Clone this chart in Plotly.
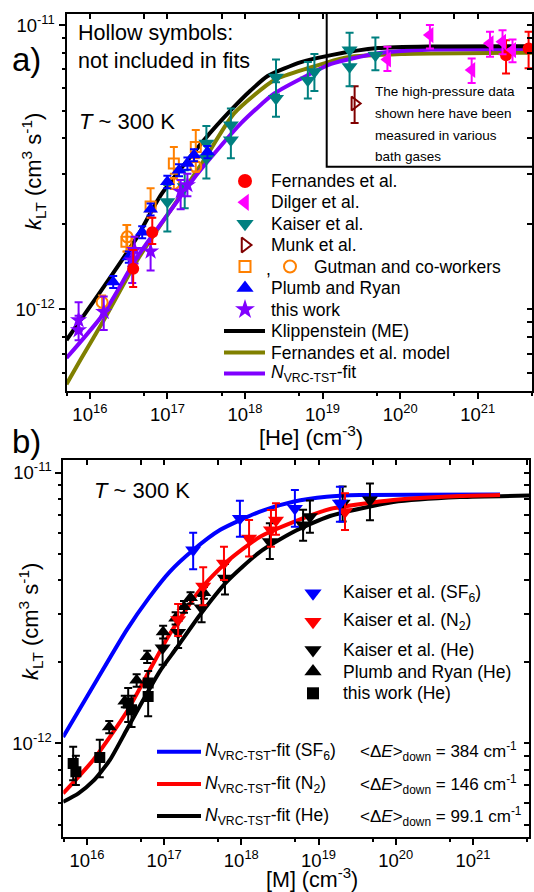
import plotly.graph_objects as go

W, H = 534, 892
FONT = "Liberation Sans, Arial, sans-serif"

RED = "#FF0000"; MAG = "#FF00FF"; TEAL = "#008080"; DRED = "#800000"
ORG = "#FF8000"; BLUE = "#0000FF"; PURP = "#8000FF"; OLIVE = "#808000"; BLK = "#000000"

# ---------------- tick values / labels ----------------
x_ticks = [1e16, 1e17, 1e18, 1e19, 1e20, 1e21]
x_ticktext = ["10<sup>16</sup>", "10<sup>17</sup>", "10<sup>18</sup>",
              "10<sup>19</sup>", "10<sup>20</sup>", "10<sup>21</sup>"]
y_ticks = [1e-12, 1e-11]
y_ticktext = ["10<sup>-12</sup>", "10<sup>-11</sup>"]
x_minor = [5e15, 5e16, 5e17, 5e18, 5e19, 5e20, 5e21]
ya_minor = [6e-13, 7e-13, 8e-13, 9e-13] + [k * 1e-12 for k in range(2, 10)]
yb_minor = [5e-13, 6e-13, 7e-13, 8e-13, 9e-13] + [k * 1e-12 for k in range(2, 10)]

# ---------------- Panel a : data ----------------
fern_x = [3.62e16, 6.38e16, 2.32e21, 4.53e21]
fern_y = [1.39e-12, 1.87e-12, 7.84e-12, 8.28e-12]
fern_hi = [1.62e-12, 2.10e-12, 8.85e-12, 9.47e-12]
fern_lo = [1.20e-12, 1.70e-12, 6.76e-12, 7.05e-12]

dilg_x = [6.86e19, 2.42e20, 8.36e20, 1.44e21, 2.09e21, 2.81e21]
dilg_y = [7.57e-12, 9.22e-12, 6.95e-12, 8.63e-12, 8.73e-12, 8.17e-12]
dilg_hi = [8.39e-12, 1.00e-11, 7.63e-12, 9.47e-12, 9.60e-12, 8.90e-12]
dilg_lo = [6.90e-12, 8.28e-12, 6.26e-12, 7.74e-12, 7.90e-12, 7.40e-12]

kais_x = [9.98e16, 1.67e17, 3.18e17, 3.18e17, 6.58e17, 6.58e17, 2.51e18, 2.51e18,
          6.46e18, 7.85e18, 2.23e19, 2.23e19, 4.80e19]
kais_y = [2.39e-12, 2.70e-12, 3.84e-12, 3.40e-12, 4.45e-12, 3.94e-12, 6.55e-12, 5.52e-12,
          6.40e-12, 6.85e-12, 8.17e-12, 7.13e-12, 7.84e-12]
kais_hi = [2.74e-12, 3.09e-12, 4.42e-12, 3.84e-12, 5.09e-12, 4.45e-12, 7.57e-12, 6.30e-12,
           7.42e-12, 7.92e-12, 9.39e-12, 8.17e-12, 9.05e-12]
kais_lo = [1.88e-12, 2.27e-12, 3.40e-12, 2.89e-12, 3.94e-12, 3.40e-12, 5.70e-12, 4.76e-12,
           5.52e-12, 5.87e-12, 7.13e-12, 6.10e-12, 6.94e-12]

munk_x = [2.59e19]
munk_y = [5.30e-12]
munk_hi = [6.10e-12]
munk_lo = [4.53e-12]

gsq_x = [2.96e16, 6.07e16, 1.21e17, 2.32e17]
gsq_y = [1.73e-12, 2.30e-12, 3.26e-12, 3.73e-12]
gsq_hi = [1.98e-12, 2.67e-12, 3.73e-12, 4.28e-12]
gsq_lo = [1.60e-12, 2.10e-12, 3.00e-12, 3.40e-12]

gci_x = [1.44e16, 3.03e16, 1.21e17, 2.32e17]
gci_y = [1.06e-12, 1.80e-12, 2.77e-12, 3.18e-12]
gci_hi = [1.12e-12, 1.98e-12, 2.90e-12, 3.30e-12]
gci_lo = [1.00e-12, 1.60e-12, 2.65e-12, 3.05e-12]

plumb_x = [2.00e16, 3.18e16, 4.73e16, 6.07e16, 9.98e16, 1.41e17, 1.81e17, 2.20e17, 3.28e17]
plumb_y = [1.25e-12, 1.53e-12, 1.87e-12, 2.25e-12, 2.81e-12, 3.09e-12, 3.26e-12, 3.49e-12, 3.58e-12]
plumb_hi = [1.31e-12, 1.60e-12, 1.96e-12, 2.36e-12, 2.95e-12, 3.24e-12, 3.42e-12, 3.66e-12, 3.76e-12]
plumb_lo = [1.19e-12, 1.46e-12, 1.78e-12, 2.14e-12, 2.67e-12, 2.94e-12, 3.10e-12, 3.32e-12, 3.40e-12]

tw_x = [7.16e15, 7.16e15, 1.51e16, 3.52e16, 3.77e16, 6.07e16, 1.48e17, 1.81e17]
tw_y = [9.17e-13, 8.46e-13, 9.81e-13, 1.49e-12, 1.62e-12, 1.60e-12, 2.60e-12, 2.74e-12]
tw_hi = [1.06e-12, 9.50e-13, 1.11e-12, 1.62e-12, 1.80e-12, 1.87e-12, 2.85e-12, 3.00e-12]
tw_lo = [8.40e-13, 7.80e-13, 8.46e-13, 1.24e-12, 1.45e-12, 1.37e-12, 2.25e-12, 2.50e-12]

# model curves (panel a)
klip_x = [5.0e15, 1.51e16, 4.08e16, 8.17e16, 2.96e17, 6.58e17, 1.19e18, 1.96e18, 5.28e18,
          1.29e19, 5.19e19, 2.30e20, 5.0e21]
klip_y = [7.80e-13, 1.20e-12, 1.80e-12, 2.52e-12, 3.94e-12, 5.02e-12, 5.90e-12, 6.62e-12,
          7.41e-12, 7.84e-12, 8.30e-12, 8.41e-12, 8.43e-12]
fmod_x = [5.0e15, 7.54e15, 1.51e16, 4.08e16, 1.34e17, 2.96e17, 7.24e17, 2.39e18, 6.46e18,
          2.12e19, 1.04e20, 5.0e21]
fmod_y = [5.46e-13, 6.64e-13, 9.16e-13, 1.49e-12, 2.42e-12, 3.35e-12, 4.89e-12, 6.41e-12,
          7.05e-12, 7.71e-12, 7.91e-12, 8.00e-12]
nfit_x = [5.0e15, 1.51e16, 4.08e16, 1.10e17, 2.44e17, 8.85e17, 2.39e18, 6.46e18, 1.29e19,
          5.01e19, 2.51e20, 5.0e21]
nfit_y = [6.75e-13, 9.68e-13, 1.53e-12, 2.23e-12, 3.00e-12, 4.51e-12, 5.75e-12, 6.67e-12,
          7.30e-12, 7.95e-12, 8.20e-12, 8.24e-12]

# ---------------- Panel b : data ----------------
ksf6_x = [2.38e17, 9.59e17, 4.94e18, 1.89e19]
ksf6_y = [5.18e-12, 6.78e-12, 7.38e-12, 7.71e-12]
ksf6_hi = [6.00e-12, 7.88e-12, 8.63e-12, 8.88e-12]
ksf6_lo = [4.40e-12, 5.80e-12, 6.32e-12, 6.59e-12]

kn2_x = [1.52e17, 3.21e17, 5.96e17, 1.26e18, 2.42e18, 2.81e18, 2.20e19]
kn2_y = [2.86e-12, 3.81e-12, 4.63e-12, 5.72e-12, 6.14e-12, 6.68e-12, 7.18e-12]
kn2_hi = [3.27e-12, 4.47e-12, 5.33e-12, 6.69e-12, 7.28e-12, 7.71e-12, 8.39e-12]
kn2_lo = [2.49e-12, 3.24e-12, 4.01e-12, 4.90e-12, 5.33e-12, 5.90e-12, 6.14e-12]

khe_x = [9.57e16, 1.52e17, 3.06e17, 6.14e17, 2.34e18, 6.31e18, 7.73e18, 2.05e19, 4.63e19]
khe_y = [2.25e-12, 2.57e-12, 3.16e-12, 4.07e-12, 5.56e-12, 6.41e-12, 6.88e-12, 7.71e-12, 7.93e-12]
khe_hi = [2.55e-12, 2.90e-12, 3.50e-12, 4.60e-12, 6.50e-12, 7.30e-12, 7.90e-12, 8.90e-12, 9.13e-12]
khe_lo = [1.95e-12, 2.25e-12, 2.80e-12, 3.55e-12, 4.80e-12, 5.60e-12, 6.00e-12, 6.60e-12, 6.68e-12]

phe_x = [1.95e16, 3.10e16, 4.41e16, 6.04e16, 9.72e16, 1.41e17, 1.81e17, 2.20e17, 3.28e17]
phe_y = [1.15e-12, 1.43e-12, 1.71e-12, 2.09e-12, 2.58e-12, 2.90e-12, 3.20e-12, 3.45e-12, 3.60e-12]
phe_hi = [1.21e-12, 1.50e-12, 1.80e-12, 2.20e-12, 2.72e-12, 3.05e-12, 3.36e-12, 3.62e-12, 3.78e-12]
phe_lo = [1.09e-12, 1.36e-12, 1.62e-12, 1.98e-12, 2.44e-12, 2.75e-12, 3.04e-12, 3.28e-12, 3.42e-12]

twhe_x = [6.65e15, 7.21e15, 1.47e16, 3.43e16, 3.79e16, 6.22e16, 6.22e16]
twhe_y = [8.43e-13, 7.85e-13, 8.87e-13, 1.41e-12, 1.33e-12, 1.67e-12, 1.49e-12]
twhe_hi = [9.71e-13, 9.00e-13, 1.03e-12, 1.60e-12, 1.50e-12, 1.85e-12, 1.67e-12]
twhe_lo = [7.30e-13, 7.02e-13, 7.50e-13, 1.20e-12, 1.15e-12, 1.50e-12, 1.26e-12]

# fits (panel b)
fsf6_x = [4.93e15, 1.34e16, 3.27e16, 6.32e16, 1.19e17, 2.38e17, 5.28e17, 1.74e18, 4.70e18,
          1.27e19, 3.44e19, 2.24e21]
fsf6_y = [1.055e-12, 1.71e-12, 2.62e-12, 3.44e-12, 4.31e-12, 5.18e-12, 6.14e-12, 7.18e-12,
          7.81e-12, 8.15e-12, 8.27e-12, 8.31e-12]
fn2_x = [4.93e15, 1.21e16, 3.27e16, 6.55e16, 1.19e17, 2.91e17, 6.45e17, 1.73e18, 4.70e18,
         1.41e19, 9.28e19, 6.79e20, 2.24e21]
fn2_y = [6.53e-13, 8.68e-13, 1.305e-12, 1.87e-12, 2.54e-12, 3.69e-12, 4.68e-12, 5.79e-12,
         6.57e-12, 7.34e-12, 7.93e-12, 8.20e-12, 8.27e-12]
fhe_x = [4.93e15, 7.71e15, 1.21e16, 1.99e16, 3.27e16, 5.36e16, 8.83e16, 1.45e17, 2.91e17,
         6.45e17, 1.73e18, 4.70e18, 1.41e19, 9.28e19, 6.79e20, 5.31e21]
fhe_y = [6.08e-13, 6.52e-13, 7.26e-13, 8.68e-13, 1.12e-12, 1.445e-12, 1.85e-12, 2.25e-12,
         2.98e-12, 3.95e-12, 5.09e-12, 6.04e-12, 6.92e-12, 7.79e-12, 8.13e-12, 8.23e-12]

# axis ranges (log10)
xa_range = [15.699, 21.70]
ya_range = [-12.285, -10.961]
xb_range = [15.695, 21.725]
yb_range = [-12.345, -10.953]

fig = go.Figure()


def add_line(x, y, color, xa, ya, w=4):
    fig.add_trace(go.Scatter(x=x, y=y, mode="lines", xaxis=xa, yaxis=ya,
                             line=dict(color=color, width=w, shape="spline", smoothing=0.6),
                             showlegend=False, hoverinfo="skip"))


def add_pts(x, y, hi, lo, symbol, color, size, xa, ya, lw=0):
    e = dict(type="data", symmetric=False,
             array=[h - v for h, v in zip(hi, y)],
             arrayminus=[v - l for v, l in zip(y, lo)],
             color=color, thickness=2, width=4)
    fig.add_trace(go.Scatter(x=x, y=y, mode="markers", xaxis=xa, yaxis=ya,
                             marker=dict(symbol=symbol, color=color, size=size,
                                         line=dict(width=lw, color=color)),
                             error_y=e, showlegend=False, hoverinfo="skip"))


# panel a
add_line(fmod_x, fmod_y, OLIVE, "x", "y")
add_line(nfit_x, nfit_y, PURP, "x", "y")
add_line(klip_x, klip_y, BLK, "x", "y")
add_pts(gsq_x, gsq_y, gsq_hi, gsq_lo, "square-open", ORG, 10, "x", "y", 2)
add_pts(gci_x, gci_y, gci_hi, gci_lo, "circle-open", ORG, 11, "x", "y", 2)
add_pts(munk_x, munk_y, munk_hi, munk_lo, "triangle-right-open", DRED, 12, "x", "y", 2)
add_pts(kais_x, kais_y, kais_hi, kais_lo, "triangle-down", TEAL, 14, "x", "y")
add_pts(plumb_x, plumb_y, plumb_hi, plumb_lo, "triangle-up", BLUE, 13, "x", "y")
add_pts(tw_x, tw_y, tw_hi, tw_lo, "star", PURP, 13, "x", "y")
add_pts(fern_x, fern_y, fern_hi, fern_lo, "circle", RED, 12, "x", "y")
add_pts(dilg_x, dilg_y, dilg_hi, dilg_lo, "triangle-left", MAG, 14, "x", "y")

# panel b
add_line(fhe_x, fhe_y, BLK, "x2", "y2")
add_line(fsf6_x, fsf6_y, BLUE, "x2", "y2")
add_line(fn2_x, fn2_y, RED, "x2", "y2")
add_pts(phe_x, phe_y, phe_hi, phe_lo, "triangle-up", BLK, 13, "x2", "y2")
add_pts(twhe_x, twhe_y, twhe_hi, twhe_lo, "square", BLK, 11, "x2", "y2")
add_pts(khe_x, khe_y, khe_hi, khe_lo, "triangle-down", BLK, 14, "x2", "y2")
add_pts(kn2_x, kn2_y, kn2_hi, kn2_lo, "triangle-down", RED, 14, "x2", "y2")
add_pts(ksf6_x, ksf6_y, ksf6_hi, ksf6_lo, "triangle-down", BLUE, 14, "x2", "y2")

# empty traces so the extra tick-only overlay axes get drawn
for xa, ya in [("x4", "y"), ("x", "y4"), ("x5", "y2"), ("x2", "y5"),
               ("x6", "y"), ("x", "y6"), ("x7", "y2"), ("x2", "y7")]:
    fig.add_trace(go.Scatter(x=[], y=[], xaxis=xa, yaxis=ya, showlegend=False, hoverinfo="skip"))

# ---------------- legends (overlay axis in pixel units) ----------------
def leg_marker(x, y, symbol, color, size, lw=0):
    fig.add_trace(go.Scatter(x=[x], y=[y], mode="markers", xaxis="x3", yaxis="y3",
                             marker=dict(symbol=symbol, color=color, size=size,
                                         line=dict(width=lw, color=color)),
                             showlegend=False, hoverinfo="skip"))


def leg_line(x0, x1, y, color):
    fig.add_trace(go.Scatter(x=[x0, x1], y=[y, y], mode="lines", xaxis="x3", yaxis="y3",
                             line=dict(color=color, width=4), showlegend=False, hoverinfo="skip"))


annots = []


def txt(x, y, s, size, xanchor="left", yanchor="middle", angle=0):
    annots.append(dict(x=x, y=y, xref="x3", yref="y3", text=s, showarrow=False,
                       xanchor=xanchor, yanchor=yanchor, textangle=angle,
                       font=dict(family=FONT, size=size, color="black")))


legA_rows = [181, 202.3, 223.7, 245, 266.5, 288, 309.5, 331, 352.5, 373.5]
legA_labels = ["Fernandes et al.", "Dilger et al.", "Kaiser et al.", "Munk et al.",
               "Gutman and co-workers", "Plumb and Ryan", "this work",
               "Klippenstein (ME)", "Fernandes et al. model", "<i>N</i><sub>VRC-TST</sub>-fit"]
SX, TX = 245, 269
leg_marker(SX, legA_rows[0], "circle", RED, 14)
leg_marker(SX, legA_rows[1], "triangle-left", MAG, 15)
leg_marker(SX, legA_rows[2], "triangle-down", TEAL, 15)
leg_marker(SX, legA_rows[3], "triangle-right-open", DRED, 13, 2)
leg_marker(SX, legA_rows[4], "square-open", ORG, 11, 2)
leg_marker(290, legA_rows[4], "circle-open", ORG, 12, 2)
leg_marker(SX, legA_rows[5], "triangle-up", BLUE, 15)
leg_marker(SX, legA_rows[6], "star", PURP, 15)
leg_line(224, 265, legA_rows[7], BLK)
leg_line(224, 265, legA_rows[8], OLIVE)
leg_line(224, 265, legA_rows[9], PURP)
for i, lab in enumerate(legA_labels):
    if i == 4:
        txt(264, legA_rows[i] + 2, ",", 17.5)
        txt(312, legA_rows[i], lab, 17.5)
    else:
        txt(TX, legA_rows[i], lab, 17.5)

legB_rows = [593.3, 621.7, 650, 671.5, 693.3]
legB_labels = ["Kaiser et al. (SF<sub>6</sub>)", "Kaiser et al. (N<sub>2</sub>)",
               "Kaiser et al. (He)", "Plumb and Ryan (He)", "this work (He)"]
leg_marker(313, legB_rows[0], "triangle-down", BLUE, 15)
leg_marker(313, legB_rows[1], "triangle-down", RED, 15)
leg_marker(313, legB_rows[2], "triangle-down", BLK, 15)
leg_marker(313, legB_rows[3], "triangle-up", BLK, 15)
leg_marker(313, legB_rows[4], "square", BLK, 12)
for r, lab in zip(legB_rows, legB_labels):
    txt(341, r, lab, 17.5)

fitB_rows = [751.7, 784, 816]
fitB_colors = [BLUE, RED, BLK]
fitB_labels = ["<i>N</i><sub>VRC-TST</sub>-fit (SF<sub>6</sub>)",
               "<i>N</i><sub>VRC-TST</sub>-fit (N<sub>2</sub>)",
               "<i>N</i><sub>VRC-TST</sub>-fit (He)"]
dE_vals = ["384", "146", "99.1"]
for r, c, lab, dv in zip(fitB_rows, fitB_colors, fitB_labels, dE_vals):
    leg_line(157, 201, r, c)
    txt(203, r, lab, 17.5)
    txt(358, r, "&lt;Δ<i>E</i>&gt;<sub>down</sub> = " + dv + " cm<sup>-1</sup>", 17)

# panel texts
txt(10, 59, "a)", 33)
txt(76, 33, "Hollow symbols:", 21.5)
txt(76, 61, "not included in fits", 21.5)
txt(77, 121, "<i>T</i> ~ 300 K", 22)
for i, s in enumerate(["The high-pressure data", "shown here have been",
                       "measured in various", "bath gases"]):
    txt(373, 91.7 + i * 21.7, s, 13.5)
txt(33, 172, "<i>k</i><sub>LT</sub> (cm<sup>3</sup> s<sup>-1</sup>)", 22, "center", "middle", -90)
txt(311, 436, "[He] (cm<sup>-3</sup>)", 22, "center", "middle")

txt(10, 441, "b)", 33)
txt(92, 490, "<i>T</i> ~ 300 K", 22)
txt(30, 622, "<i>k</i><sub>LT</sub> (cm<sup>3</sup> s<sup>-1</sup>)", 22, "center", "middle", -90)
txt(312, 877.5, "[M] (cm<sup>-3</sup>)", 21.5, "center", "middle")

shapes = [dict(type="path", xref="x3", yref="y3",
               path="M 326.7 14 L 326.7 166.7 L 533 166.7",
               line=dict(color="black", width=2))]

common = dict(type="log", showline=True, linecolor="black", linewidth=2, mirror=True,
              ticks="outside", ticklen=6, tickwidth=2, tickcolor="black",
              showgrid=False, zeroline=False, tickmode="array",
              automargin=False,
              tickfont=dict(family=FONT, size=18.5, color="black"))


def tick_axis(rng, vals, overlay, anchor, side, ticks="outside", length=4):
    return dict(type="log", range=rng, overlaying=overlay, anchor=anchor, side=side,
                tickmode="array", tickvals=vals, ticktext=[""] * len(vals),
                ticks=ticks, ticklen=length, tickwidth=2, tickcolor="black",
                showline=False, showgrid=False, zeroline=False, automargin=False,
                fixedrange=True)


fig.update_layout(
    width=W, height=H, margin=dict(l=0, r=0, t=0, b=0),
    paper_bgcolor="white", plot_bgcolor="rgba(0,0,0,0)",
    font=dict(family=FONT, color="black"),
    showlegend=False,
    xaxis=dict(common, range=xa_range, domain=[66.5 / W, 532 / W], anchor="y",
               tickvals=x_ticks, ticktext=x_ticktext),
    yaxis=dict(common, range=ya_range, domain=[1 - 390.5 / H, 1 - 14 / H], anchor="x",
               tickvals=y_ticks, ticktext=y_ticktext),
    xaxis2=dict(common, range=xb_range, domain=[63.3 / W, 529 / W], anchor="y2",
                tickvals=x_ticks, ticktext=x_ticktext),
    yaxis2=dict(common, range=yb_range, domain=[1 - 836.7 / H, 1 - 460 / H], anchor="x2",
                tickvals=y_ticks, ticktext=y_ticktext),
    xaxis3=dict(range=[0, W], domain=[0, 1], anchor="y3", visible=False, fixedrange=True),
    yaxis3=dict(range=[H, 0], domain=[0, 1], anchor="x3", visible=False, fixedrange=True),
    xaxis4=tick_axis(xa_range, x_minor, "x", "y", "bottom"),
    yaxis4=tick_axis(ya_range, ya_minor, "y", "x", "left"),
    xaxis5=tick_axis(xb_range, x_minor, "x2", "y2", "bottom"),
    yaxis5=tick_axis(yb_range, yb_minor, "y2", "x2", "left"),
    xaxis6=tick_axis(xa_range, x_ticks + x_minor, "x", "y", "top", "inside", 5),
    yaxis6=tick_axis(ya_range, y_ticks + ya_minor, "y", "x", "right", "inside", 5),
    xaxis7=tick_axis(xb_range, x_ticks + x_minor, "x2", "y2", "top", "inside", 5),
    yaxis7=tick_axis(yb_range, y_ticks + yb_minor, "y2", "x2", "right", "inside", 5),
    annotations=annots, shapes=shapes,
)

fig.write_html("out.html")
